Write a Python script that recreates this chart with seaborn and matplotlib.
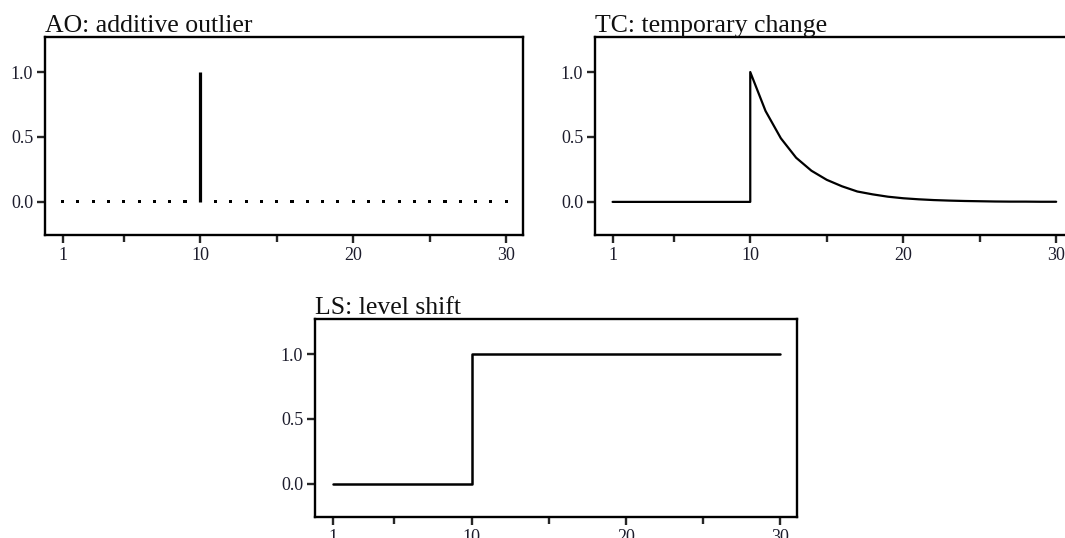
import matplotlib
matplotlib.use("Agg")
import matplotlib.pyplot as plt
import pandas as pd
import seaborn as sns

# Data
t = list(range(1, 31))
ao = [0, 0, 0, 0, 0, 0, 0, 0, 0, 1, 0, 0, 0, 0, 0, 0, 0, 0, 0, 0,
      0, 0, 0, 0, 0, 0, 0, 0, 0, 0]
tc = [0, 0, 0, 0, 0, 0, 0, 0, 0, 1.0, 0.70, 0.49, 0.34, 0.24, 0.17,
      0.12, 0.08, 0.058, 0.04, 0.028, 0.02, 0.014, 0.01, 0.007, 0.005,
      0.003, 0.002, 0.002, 0.001, 0.001]
ls = [0, 0, 0, 0, 0, 0, 0, 0, 0, 1, 1, 1, 1, 1, 1, 1, 1, 1, 1, 1,
      1, 1, 1, 1, 1, 1, 1, 1, 1, 1]
titles = ["AO: additive outlier", "TC: temporary change", "LS: level shift"]
x_ticks = [1, 10, 20, 30]
x_minor = [5, 15, 25]
y_ticks = [0.0, 0.5, 1.0]
y_ticklabels = ["0.0", "0.5", "1.0"]

df = pd.DataFrame({"t": t, "ao": ao, "tc": tc, "ls": ls})

sns.set_style("ticks")
plt.rcParams["font.family"] = ["Liberation Serif", "DejaVu Serif"]

fig = plt.figure(figsize=(10.65, 5.38), dpi=100)
W, H = 1065, 538


def make_ax(left, top, width, height):
    return fig.add_axes([left / W, (H - top - height) / H, width / W, height / H])


ax1 = make_ax(45, 37, 478, 198)
ax2 = make_ax(595, 37, 478, 198)
ax3 = make_ax(315, 319, 482, 198)

# AO: spike at the outlier, dots elsewhere
zero = df[df["ao"] == 0]
sns.scatterplot(x="t", y="ao", data=zero, ax=ax1, marker="s", s=5,
                color="black", edgecolor="none", legend=False)
spike = df[df["ao"] != 0]
ax1.vlines(spike["t"], 0, spike["ao"], color="black", lw=2.3)

# TC: jump then decay
tc_before = df[df["t"] <= 10].copy()
tc_before.loc[tc_before["t"] == 10, "tc"] = 0
tc_after = df[df["t"] >= 10]
tc_line = pd.concat([tc_before, tc_after])
sns.lineplot(x="t", y="tc", data=tc_line, ax=ax2, sort=False, estimator=None,
             color="black", lw=1.6)

# LS: step
sns.lineplot(x="t", y="ls", data=df, ax=ax3, estimator=None,
             color="black", lw=1.8, drawstyle="steps-post")

for ax, title in zip([ax1, ax2, ax3], titles):
    ax.set_xlim(-0.15, 31.1)
    ax.set_ylim(-0.255, 1.27)
    ax.set_xticks(x_ticks)
    ax.set_xticks(x_minor, minor=True)
    ax.set_yticks(y_ticks)
    ax.set_yticklabels(y_ticklabels)
    ax.set_xlabel("")
    ax.set_ylabel("")
    for sp in ax.spines.values():
        sp.set_visible(True)
        sp.set_linewidth(1.7)
        sp.set_color("black")
    ax.tick_params(axis="both", which="major", direction="out", length=6,
                   width=1.7, labelsize=13, labelcolor="#1c1c2c", pad=2.5)
    ax.tick_params(axis="x", which="minor", direction="out", length=5,
                   width=1.7)
    ax.set_title(title, loc="left", fontsize=18.5, pad=0, color="#111111")

fig.savefig("out.png", dpi=100)
